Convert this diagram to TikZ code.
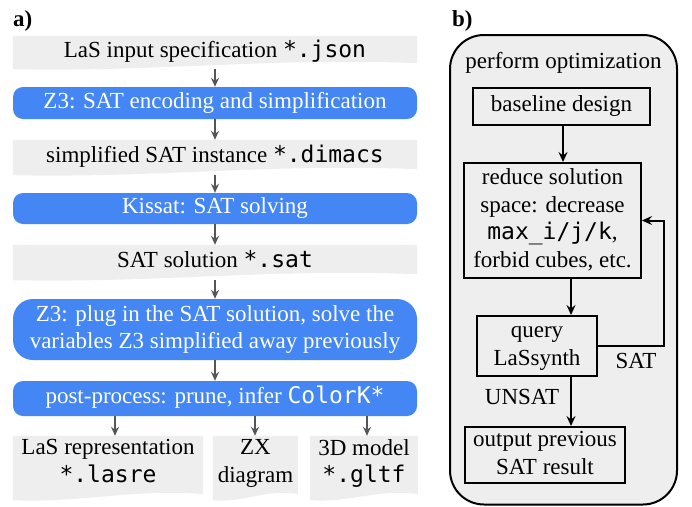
\documentclass[tikz,border=0pt]{standalone}
\usepackage{fontspec}
\setmainfont{Liberation Serif}
\setmonofont{DejaVu Sans Mono}
\usetikzlibrary{arrows.meta,calc,backgrounds}
\definecolor{gboxc}{RGB}{238,238,238}
\definecolor{bboxc}{RGB}{68,135,244}
\definecolor{agrey}{RGB}{85,85,85}
\newcommand\tstrut{\rule[-5pt]{0pt}{20.5pt}}
\newcommand\docfill[1]{%
  \fill[gboxc] (#1.north west) -- (#1.north east) -- ($(#1.south east)+(0,-6)$)
    .. controls ($(#1.south east)!0.35!(#1.south west)+(0,-12)$) and ($(#1.south east)!0.65!(#1.south west)+(0,3)$) .. (#1.south west) -- cycle;}
\tikzset{
  basetxt/.style={inner sep=0pt, align=center, font=\fontsize{23}{27.6}\selectfont},
  oneline/.style={text height=15.5pt, text depth=5pt},
  docnode/.style={basetxt, text=black},
  bluenode/.style={basetxt, fill=bboxc, text=white, rounded corners=10pt},
  optbox/.style={basetxt, draw=black, line width=2pt, fill=gboxc},
  garr/.style={draw=agrey, line width=1.6pt, -{Stealth[length=9pt,width=8pt,inset=3pt]}},
  barr/.style={draw=black, line width=2pt, -{Stealth[length=10pt,width=9pt,inset=3.5pt]}},
  lbl/.style={basetxt},
  panellbl/.style={inner sep=0pt, anchor=base west, font=\fontsize{23}{27.6}\selectfont\bfseries}
}
\begin{document}
\begin{tikzpicture}[x=1pt,y=-1pt]
\useasboundingbox (0,0) rectangle (692,506);

% ---------- panel a ----------
\node[panellbl] (la) at (13,26) {a)};

\node[docnode, oneline, minimum width=404pt, minimum height=33pt] (spec) at (215,52.5) {LaS input specification \texttt{*.json}};
\node[bluenode, oneline, minimum width=404pt, minimum height=32pt] (enc) at (215,103) {Z3: SAT encoding and simplification};
\node[docnode, oneline, minimum width=404pt, minimum height=35pt] (dimacs) at (215,157.5) {simplified SAT instance \texttt{*.dimacs}};
\node[bluenode, oneline, minimum width=404pt, minimum height=31pt] (kissat) at (215,208.5) {Kissat: SAT solving};
\node[docnode, oneline, minimum width=404pt, minimum height=35pt] (satsol) at (215,262.5) {SAT solution \texttt{*.sat}};
\node[bluenode, rounded corners=20pt, minimum width=404pt, minimum height=61pt] (plug) at (215,329.5) {\tstrut Z3: plug in the SAT solution, solve the\\variables Z3 simplified away previously\tstrut};
\node[bluenode, oneline, minimum width=404pt, minimum height=35pt] (post) at (215,398.5) {post-process: prune, infer \texttt{ColorK*}};

\node[docnode, minimum width=190pt, minimum height=64pt] (lasre) at (108,468) {\tstrut LaS representation\\\texttt{*.lasre}\rule[-14pt]{0pt}{0pt}};
\node[docnode, minimum width=85pt, minimum height=64pt] (zx) at (255.5,468) {\tstrut ZX\\diagram\rule[-14pt]{0pt}{0pt}};
\node[docnode, minimum width=108pt, minimum height=64pt] (gltf) at (364,468) {\tstrut 3D model\\\texttt{*.gltf}\rule[-14pt]{0pt}{0pt}};

\begin{scope}[on background layer]
  \docfill{spec}
  \docfill{dimacs}
  \docfill{satsol}
  \docfill{lasre}
  \docfill{zx}
  \docfill{gltf}
\end{scope}

\coordinate (xa) at (115,0);
\coordinate (xb) at (255,0);
\coordinate (xc) at (367,0);

\draw[garr] (spec) -- (enc);
\draw[garr] (enc) -- (dimacs);
\draw[garr] (dimacs) -- (kissat);
\draw[garr] (kissat) -- (satsol);
\draw[garr] (satsol) -- (plug);
\draw[garr] (plug) -- (post);
\draw[garr] (post.south -| xa) -- (lasre.north -| xa);
\draw[garr] (post.south -| xb) -- (zx.north -| xb);
\draw[garr] (post.south -| xc) -- (gltf.north -| xc);

% ---------- panel b ----------
\node[panellbl] (lb) at (452,26) {b)};

\begin{scope}[on background layer]
  \draw[line width=2pt, fill=gboxc, rounded corners=34pt] (450,35) rectangle (677,504.5);
\end{scope}
\node[basetxt, anchor=base] (perf) at (563.5,68) {perform optimization};

\node[optbox, oneline, minimum width=177pt, minimum height=37pt] (base) at (561.5,106.5) {baseline design};
\node[optbox, minimum width=177pt, minimum height=115pt] (reduce) at (552.5,220.5) {\tstrut reduce solution\\space: decrease\\\texttt{max\_i/j/k},\\forbid cubes, etc.\tstrut};
\node[optbox, minimum width=120pt, minimum height=60pt] (query) at (537,346) {\tstrut query\\LaSsynth\tstrut};
\node[optbox, minimum width=160pt, minimum height=56pt] (out) at (545,455) {\tstrut output previous\\SAT result\tstrut};

\coordinate (fb) at (664,220.5);
\coordinate (xq) at (571,0);

\draw[barr] (base.south -| 563,0) -- (reduce.north -| 563,0);
\draw[barr] (reduce.south -| xq) -- (query.north -| xq);
\draw[barr] (query.south -| xq) -- (out.north -| xq);
\draw[barr] (query.east) -| (fb) -- (reduce.east);

\node[lbl, oneline] (satl) at (636,363) {SAT};
\node[lbl, oneline] (unsatl) at (522,399) {UNSAT};
\end{tikzpicture}
\end{document}
